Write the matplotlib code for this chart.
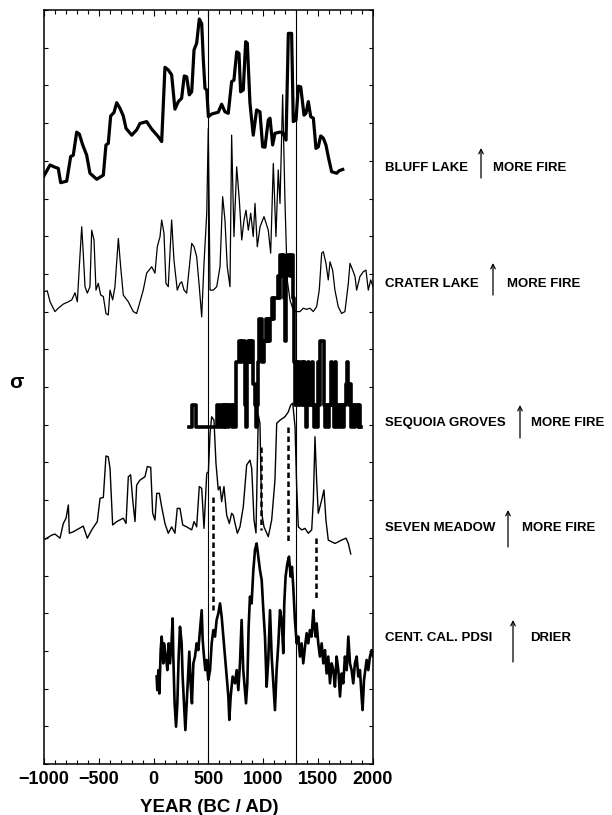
import numpy as np
import matplotlib
matplotlib.use('Agg')
from matplotlib import pyplot as plt

# all records share one axis (years, sigma units stacked with offsets)
bluff_year = [-1000, -945, -900, -870, -848, -793, -757, -733, -702, -678,
              -647, -611, -581, -519, -459, -435, -414, -392, -362, -337,
              -307, -277, -252, -200, -155, -125, -64, -18, 42, 73,
              103, 133, 164, 194, 225, 255, 279, 301, 325, 347,
              368, 392, 416, 438, 453, 468, 484, 499, 529, 589,
              620, 650, 680, 711, 732, 757, 778, 793, 817, 839,
              854, 878, 908, 939, 969, 994, 1015, 1045, 1061, 1085,
              1106, 1152, 1176, 1207, 1228, 1258, 1273, 1298, 1319, 1341,
              1371, 1389, 1410, 1432, 1456, 1480, 1501, 1523, 1547, 1571,
              1592, 1623, 1669, 1693, 1724]
bluff_val = [15.60, 15.89, 15.83, 15.80, 15.42, 15.46, 16.11, 16.15, 16.76, 16.71,
             16.42, 16.15, 15.67, 15.51, 15.62, 16.42, 16.46, 17.19, 17.28, 17.54,
             17.39, 17.19, 16.86, 16.68, 16.82, 16.99, 17.04, 16.84, 16.64, 16.51,
             18.48, 18.41, 18.28, 17.37, 17.57, 17.66, 18.25, 18.23, 17.75, 17.83,
             18.94, 19.12, 19.76, 19.64, 18.67, 17.92, 17.88, 17.17, 17.24, 17.29,
             17.50, 17.30, 17.26, 18.10, 18.14, 18.89, 18.85, 17.83, 17.88, 19.16,
             19.12, 17.53, 16.68, 17.35, 17.30, 16.37, 16.36, 17.08, 17.13, 16.42,
             16.73, 16.76, 16.75, 16.55, 19.38, 19.38, 17.04, 17.08, 17.98, 17.96,
             17.21, 17.26, 17.57, 17.17, 17.13, 16.33, 16.37, 16.66, 16.60, 16.42,
             16.11, 15.71, 15.67, 15.74, 15.77]

crater_year = [-1000, -970, -945, -900, -870, -824, -778, -747, -717, -696,
               -678, -656, -642, -626, -605, -581, -565, -544, -526, -505,
               -483, -459, -435, -414, -398, -374, -353, -322, -301, -277,
               -231, -186, -155, -125, -95, -64, -18, 12, 33, 58,
               73, 94, 112, 133, 164, 185, 215, 240, 256, 277,
               301, 347, 368, 392, 416, 438, 459, 484, 498, 514,
               544, 575, 605, 629, 650, 671, 696, 711, 732, 757,
               781, 803, 824, 842, 863, 885, 908, 924, 945, 970,
               1006, 1045, 1067, 1091, 1115, 1136, 1152, 1176, 1197, 1218,
               1243, 1273, 1304, 1334, 1364, 1395, 1425, 1455, 1486, 1510,
               1532, 1547, 1571, 1592, 1608, 1632, 1653, 1683, 1714, 1744,
               1775, 1790, 1820, 1836, 1851, 1881, 1912, 1936, 1957, 1979,
               2000]
crater_val = [12.53, 12.55, 12.26, 12.00, 12.09, 12.20, 12.26, 12.31, 12.50, 12.26,
              13.19, 14.25, 13.55, 12.66, 12.49, 12.66, 14.16, 13.90, 12.57, 12.75,
              12.44, 12.40, 11.95, 11.91, 12.57, 12.31, 12.66, 13.94, 13.19, 12.44,
              12.26, 12.00, 11.95, 12.26, 12.57, 13.02, 13.19, 13.02, 13.72, 13.99,
              14.43, 14.08, 12.75, 12.66, 14.43, 13.37, 12.57, 12.75, 12.79, 12.57,
              12.49, 13.81, 13.72, 13.46, 12.66, 11.86, 13.28, 14.61, 16.86, 12.57,
              12.57, 12.66, 13.19, 15.05, 14.43, 13.19, 12.66, 16.68, 13.99, 15.84,
              14.96, 13.90, 14.43, 14.69, 14.16, 14.61, 13.99, 14.87, 13.72, 14.25,
              14.52, 14.16, 13.55, 15.93, 13.99, 15.76, 14.87, 17.75, 14.96, 12.84,
              12.31, 12.04, 12.00, 12.00, 12.09, 12.06, 12.09, 12.00, 12.13, 12.57,
              13.55, 13.59, 13.28, 12.84, 13.32, 13.10, 12.57, 12.13, 11.95, 12.00,
              12.75, 13.28, 13.06, 12.93, 12.57, 12.93, 13.06, 13.10, 12.57, 12.84,
              12.66]

# sequoia groves: fire counts per decade starting 320 AD
seq_start = 320
seq_count = [0, 0, 0, 1, 1, 1, 1, 0,
             0, 0, 0, 0, 0, 0, 0, 0, 0, 0,   # 400s
             0, 0, 0, 0, 0, 0, 0, 0, 1, 1,   # 500s
             0, 1, 1, 0, 1, 0, 1, 1, 0, 1,   # 600s
             1, 0, 1, 1, 0, 3, 3, 3, 4, 4,   # 700s
             3, 4, 4, 1, 0, 3, 4, 3, 4, 3,   # 800s
             4, 2, 1, 0, 1, 3, 5, 5, 5, 3,   # 900s
             3, 4, 5, 4, 5, 4, 5, 5, 6, 5,   # 1000s
             6, 6, 6, 7, 6, 8, 8, 7, 8, 6,   # 1100s
             4, 7, 8, 8, 7, 8, 8, 6, 3, 1,   # 1200s
             3, 1, 3, 1, 2, 3, 1, 3, 1, 0,   # 1300s
             1, 3, 1, 1, 3, 1, 0, 1, 1, 0,   # 1400s
             3, 1, 4, 4, 4, 1, 0, 1, 1, 0,   # 1500s
             1, 1, 3, 1, 0, 3, 1, 0, 1, 1,   # 1600s
             0, 1, 1, 0, 1, 2, 3, 2, 1, 2,   # 1700s
             0, 1, 1, 0, 1, 1, 0, 1, 0]      # 1800s
seq_base = 8.95
seq_step = 0.57

seven_year = [-991, -930, -900, -854, -824, -799, -778, -769, -733, -642,
              -605, -565, -514, -489, -459, -435, -414, -398, -374, -337,
              -277, -252, -231, -210, -191, -170, -155, -125, -79, -58,
              -27, -9, 12, 28, 52, 73, 103, 133, 164, 194,
              215, 240, 265, 301, 347, 368, 392, 416, 438, 459,
              484, 499, 514, 529, 550, 568, 589, 605, 620, 641,
              666, 690, 711, 726, 742, 763, 787, 817, 848, 878,
              894, 915, 933, 954, 969, 985, 1006, 1045, 1076, 1106,
              1122, 1152, 1197, 1228, 1249, 1268, 1289, 1304, 1319, 1350,
              1380, 1410, 1441, 1456, 1471, 1486, 1501, 1532, 1553, 1571,
              1592, 1653, 1714, 1754, 1775, 1797]
seven_val = [5.96, 6.07, 6.10, 5.99, 6.38, 6.52, 6.87, 6.12, 6.16, 6.31,
             5.99, 6.21, 6.43, 7.05, 7.07, 8.17, 8.15, 7.84, 6.34, 6.43,
             6.52, 6.38, 7.62, 7.67, 7.00, 6.43, 7.40, 7.53, 7.62, 7.89,
             7.87, 6.65, 6.47, 7.18, 7.18, 6.82, 6.38, 6.12, 6.29, 6.12,
             6.78, 6.78, 6.34, 6.29, 6.21, 6.43, 6.29, 7.36, 7.31, 6.25,
             7.71, 7.75, 8.77, 9.21, 9.12, 7.98, 7.27, 7.36, 6.96, 7.36,
             6.60, 6.38, 6.65, 6.60, 6.38, 6.12, 6.29, 6.82, 7.93, 8.06,
             7.84, 6.47, 6.13, 9.26, 9.04, 6.65, 6.29, 6.03, 6.47, 7.53,
             9.04, 9.12, 9.21, 9.34, 9.52, 9.57, 8.95, 7.36, 6.29, 6.21,
             6.25, 6.12, 6.21, 7.00, 8.68, 7.53, 6.65, 7.00, 7.27, 6.47,
             5.94, 5.85, 5.94, 5.99, 5.85, 5.57]

pdsi_year = [27, 33, 43, 52, 64, 73, 88, 94, 112, 125,
             137, 149, 164, 173, 179, 191, 204, 216, 228, 240,
             255, 264, 276, 289, 301, 316, 325, 337, 349, 362,
             377, 392, 407, 422, 438, 447, 459, 471, 483, 498,
             514, 529, 544, 559, 574, 590, 605, 620, 635, 650,
             665, 681, 690, 702, 720, 741, 757, 772, 787, 802,
             817, 842, 854, 866, 878, 893, 909, 924, 939, 954,
             969, 985, 1000, 1015, 1030, 1045, 1061, 1076, 1091, 1106,
             1121, 1137, 1152, 1167, 1182, 1191, 1203, 1219, 1234, 1249,
             1261, 1273, 1288, 1304, 1319, 1334, 1349, 1364, 1380, 1395,
             1410, 1425, 1440, 1456, 1465, 1477, 1486, 1501, 1516, 1532,
             1547, 1562, 1577, 1592, 1608, 1623, 1638, 1653, 1668, 1684,
             1699, 1714, 1729, 1744, 1760, 1775, 1790, 1805, 1820, 1835,
             1851, 1866, 1881, 1896, 1905, 1918, 1930, 1942, 1957, 1972,
             1987, 2000]
pdsi_val = [2.32, 1.96, 2.49, 1.87, 3.02, 3.38, 2.67, 3.20, 2.85, 2.49,
            3.20, 2.67, 3.29, 3.86, 2.85, 1.61, 0.99, 1.61, 2.85, 3.64,
            3.20, 2.32, 1.61, 0.90, 1.61, 2.49, 2.98, 2.14, 1.61, 2.67,
            2.85, 3.20, 3.02, 3.55, 4.08, 3.29, 2.85, 2.49, 2.76, 2.23,
            2.49, 3.20, 3.55, 3.38, 3.82, 4.00, 4.26, 3.91, 3.38, 2.85,
            2.32, 1.79, 1.17, 1.79, 2.32, 2.14, 2.49, 1.96, 2.67, 3.82,
            2.49, 1.61, 2.14, 3.64, 4.44, 4.26, 5.15, 5.68, 5.85, 5.50,
            5.15, 4.88, 4.08, 3.38, 2.05, 2.76, 4.08, 2.85, 2.14, 1.43,
            2.49, 3.20, 4.08, 3.82, 2.94, 4.26, 4.97, 5.32, 5.50, 4.97,
            5.23, 4.70, 3.82, 3.20, 3.38, 2.85, 3.20, 2.67, 3.11, 3.47,
            3.20, 3.55, 3.38, 4.08, 3.64, 3.38, 3.73, 3.20, 2.85, 3.20,
            2.67, 3.02, 2.40, 2.85, 2.14, 2.67, 2.49, 2.05, 2.85, 2.49,
            1.79, 2.40, 2.14, 2.85, 2.49, 3.38, 2.67, 2.49, 2.14, 2.67,
            2.85, 2.32, 2.49, 1.79, 1.43, 2.23, 2.49, 2.76, 2.49, 2.85,
            3.02, 2.85]

# dashed links seven meadow -> pdsi
dash_year = [538, 976, 1222, 1477]
dash_top = [7.09, 8.42, 8.95, 6.00]
dash_bot = [4.08, 6.21, 5.86, 4.35]

period_lines = [500, 1300]

names = ['BLUFF LAKE', 'CRATER LAKE', 'SEQUOIA GROVES', 'SEVEN MEADOW', 'CENT. CAL. PDSI']
meaning = ['MORE FIRE', 'MORE FIRE', 'MORE FIRE', 'MORE FIRE', 'DRIER']

W, H = 612, 815


def fx(px):
    return px / W


def fy(py):
    return 1 - py / H


fig = plt.figure(figsize=(6.12, 8.15), dpi=100)
ax = fig.add_axes([fx(44), fy(764), (373 - 44) / W, (764 - 10) / H])

ax.plot(bluff_year, bluff_val, color='k', lw=2.3)
ax.plot(crater_year, crater_val, color='k', lw=0.9)

seq_x = seq_start + 10 * np.arange(len(seq_count) + 1)
seq_y = seq_base + seq_step * np.array(seq_count + [seq_count[-1]])
ax.step(seq_x, seq_y, where='post', color='k', lw=2.6)

ax.plot(seven_year, seven_val, color='k', lw=1.0)
ax.plot(pdsi_year, pdsi_val, color='k', lw=1.9)

for x in period_lines:
    ax.axvline(x, color='k', lw=0.8)
for x, y0, y1 in zip(dash_year, dash_top, dash_bot):
    ax.plot([x, x], [y0, y1], color='k', lw=1.8, ls=(0, (2.2, 1.4)))

ax.set_xlim(-1000, 2000)
ax.set_ylim(0, 20)
ax.set_xticks(np.arange(-1000, 2001, 500))
ax.set_xticks(np.arange(-1000, 2001, 100), minor=True)
ax.set_yticks(np.arange(0, 21, 1))
ax.set_yticklabels([])
ax.tick_params(axis='x', which='major', direction='in', top=True, length=4.5, width=0.8, pad=5)
ax.tick_params(axis='x', which='minor', direction='in', top=True, length=3, width=0.8)
ax.tick_params(axis='y', direction='in', right=True, length=3, width=0.8)
for lab in ax.get_xticklabels():
    lab.set_fontfamily('Liberation Sans')
    lab.set_fontweight('bold')
    lab.set_fontsize(13)
for s in ax.spines.values():
    s.set_linewidth(1.1)

fig.text(fx(209), fy(807), 'YEAR (BC / AD)', ha='center', va='center',
         family='Liberation Sans', weight='bold', fontsize=13.5)
fig.text(fx(16), fy(383), 'σ', ha='center', va='center',
         family='Liberation Sans', weight='bold', fontsize=15)

# right-hand labels: name, arrow, meaning
label_y = [168, 284, 423, 528, 638]
arrow_x = [481, 493, 520, 508, 513]
arrow_top = [148, 263, 405, 510, 620]
arrow_bot = [178, 295, 438, 547, 662]
meaning_x = [493, 507, 531, 522, 530]
for i in range(len(names)):
    fig.text(fx(385), fy(label_y[i]), names[i], ha='left', va='center',
             family='Liberation Sans', weight='bold', fontsize=9.5)
    fig.text(fx(meaning_x[i]), fy(label_y[i]), meaning[i], ha='left', va='center',
             family='Liberation Sans', weight='bold', fontsize=9.5)
    ax.annotate('', xy=(fx(arrow_x[i]), fy(arrow_top[i])),
                xytext=(fx(arrow_x[i]), fy(arrow_bot[i])),
                xycoords='figure fraction', textcoords='figure fraction',
                arrowprops=dict(arrowstyle='->', lw=0.9, color='k',
                                shrinkA=0, shrinkB=0, mutation_scale=8),
                annotation_clip=False)

fig.savefig('out.png', dpi=100)
